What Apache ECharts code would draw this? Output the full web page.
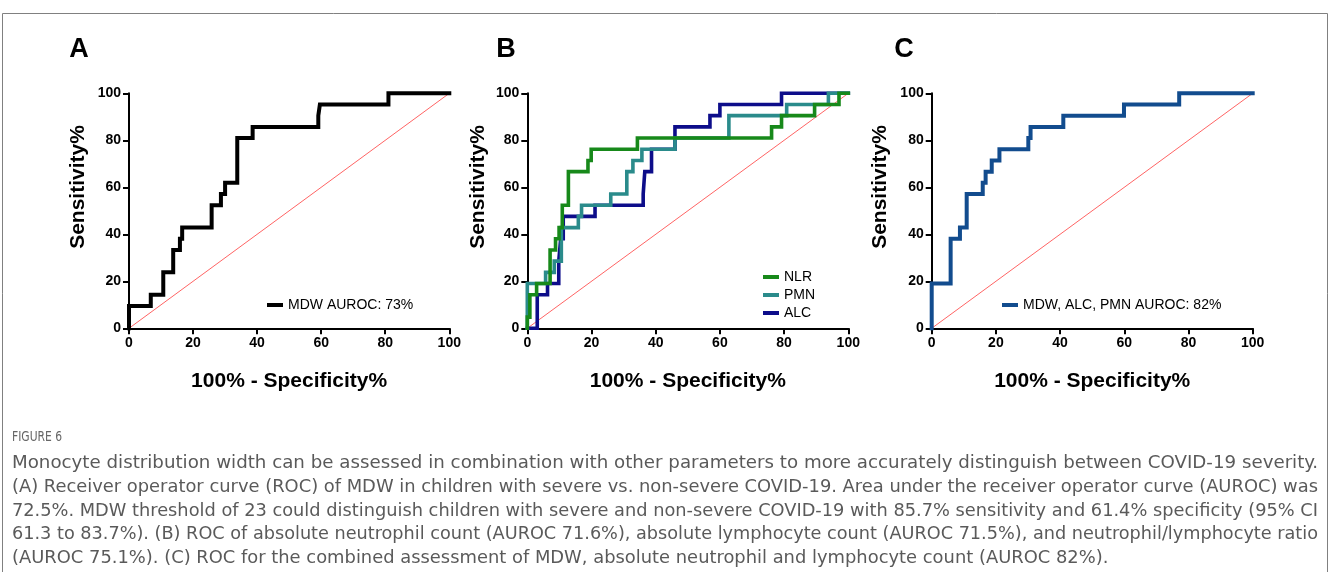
<!DOCTYPE html>
<html><head><meta charset="utf-8">
<script src="https://cdn.jsdelivr.net/npm/echarts@6/dist/echarts.min.js"></script>
<style>html,body{margin:0;padding:0;background:#fff}#c{width:1330px;height:572px}</style>
</head><body><div id="c"></div>
<script>
// ---------- data ----------
const xTicks = [0, 20, 40, 60, 80, 100];
const yTicks = [0, 20, 40, 60, 80, 100];
const refLine = [[0, 0], [100, 100]];
// ROC operating points [100% - specificity, sensitivity]
const mdwROC = [[0,0],[0,9.52],[6.8,14.29],[10.7,23.81],[13.8,33.33],[15.9,38.1],[16.6,42.86],[25.8,52.38],[28.7,57.14],[30.0,61.9],[33.8,80.95],[38.6,85.71],[59.1,90.48],[59.6,95.24],[81.0,100],[100,100]];
const nlrROC = [[0,0],[0,4.76],[0.8,14.29],[2.9,19.05],[7.1,33.33],[8.8,38.1],[9.9,42.86],[10.9,52.38],[12.8,66.67],[18.9,71.43],[19.9,76.19],[34.3,80.95],[76.1,85.71],[79.2,90.48],[89.5,95.24],[97.1,100],[100,100]];
const pmnROC = [[0,0],[0,19.05],[5.7,23.81],[8.4,28.57],[10.6,42.86],[15.9,47.62],[16.9,52.38],[26.0,57.14],[31.0,66.67],[32.9,71.43],[35.7,76.19],[46.0,80.95],[62.8,90.48],[80.8,95.24],[93.8,100],[100,100]];
const alcROC = [[0,0],[3.1,14.29],[6.3,19.05],[9.8,28.57],[10.4,38.1],[11.2,47.62],[21.1,52.38],[36.1,57.14],[36.6,66.67],[38.7,76.19],[46.0,85.71],[56.9,90.48],[60.0,95.24],[79.2,100],[100,100]];
const comboROC = [[0,0],[0,19.05],[5.9,38.1],[8.8,42.86],[10.9,57.14],[15.9,61.9],[16.8,66.67],[18.7,71.43],[21.1,76.19],[30.1,80.95],[30.8,85.71],[41.0,90.48],[59.9,95.24],[77.1,100],[100,100]];
const seriesNames = { A: 'MDW AUROC: 73%', NLR: 'NLR', PMN: 'PMN', ALC: 'ALC', C: 'MDW, ALC, PMN AUROC: 82%' };
const panelLetters = ['A', 'B', 'C'];
const xTitle = '100% - Specificity%';
const yTitle = 'Sensitivity%';
const captionHead = 'FIGURE 6';
const captionLines = [
  'Monocyte distribution width can be assessed in combination with other parameters to more accurately distinguish between COVID-19 severity.',
  '(A) Receiver operator curve (ROC) of MDW in children with severe vs. non-severe COVID-19. Area under the receiver operator curve (AUROC) was',
  '72.5%. MDW threshold of 23 could distinguish children with severe and non-severe COVID-19 with 85.7% sensitivity and 61.4% specificity (95% CI',
  '61.3 to 83.7%). (B) ROC of absolute neutrophil count (AUROC 71.6%), absolute lymphocyte count (AUROC 71.5%), and neutrophil/lymphocyte ratio',
  '(AUROC 75.1%). (C) ROC for the combined assessment of MDW, absolute neutrophil and lymphocyte count (AUROC 82%).'
];

// ---------- layout ----------
const FONT = 'Liberation Sans, Arial, Helvetica, sans-serif';
const grids = [
  { left: 129, top: 93.3, width: 320.3, height: 235 },
  { left: 527.3, top: 93.3, width: 321, height: 235 },
  { left: 931.7, top: 93.3, width: 321, height: 235 }
];
const letterPos = [[79, 50], [506, 50], [904, 50]];
const yTitlePos = [[78, 187], [478, 187], [880, 187]];

function axisCommon(isX) {
  return {
    type: 'value', min: 0, max: 100, interval: 20,
    axisLine: { show: true, onZero: false, lineStyle: { color: '#000', width: 2 } },
    axisTick: { show: true, length: 6, lineStyle: { color: '#000', width: 2 } },
    axisLabel: { color: '#000', fontWeight: 'bold', fontSize: 14, fontFamily: FONT, margin: 8,
      formatter: v => (isX ? xTicks : yTicks).includes(v) ? String(v) : '' },
    splitLine: { show: false }
  };
}
const xAxes = grids.map((g, i) => Object.assign(axisCommon(true), {
  gridIndex: i, name: xTitle, nameLocation: 'middle', nameGap: 42,
  nameTextStyle: { fontSize: 21, fontWeight: 'bold', color: '#000', fontFamily: FONT }
}));
const yAxes = grids.map((g, i) => Object.assign(axisCommon(false), { gridIndex: i }));

function lineSeries(name, data, idx, color, width, z) {
  return { type: 'line', name, data, xAxisIndex: idx, yAxisIndex: idx, step: 'end',
    symbol: 'none', clip: false, z: z || 3, silent: true,
    lineStyle: { color, width, cap: 'square', join: 'miter' }, itemStyle: { color } };
}
function refSeries(idx) {
  return { type: 'line', data: refLine, xAxisIndex: idx, yAxisIndex: idx, symbol: 'none',
    silent: true, z: 2, lineStyle: { color: '#ff6464', width: 1 } };
}
const series = [
  refSeries(0), lineSeries(seriesNames.A, mdwROC, 0, '#000000', 4),
  refSeries(1),
  lineSeries(seriesNames.ALC, alcROC, 1, '#0d0d8a', 3.6, 3),
  lineSeries(seriesNames.PMN, pmnROC, 1, '#2a8b8b', 3.6, 4),
  lineSeries(seriesNames.NLR, nlrROC, 1, '#17891a', 3.6, 5),
  refSeries(2), lineSeries(seriesNames.C, comboROC, 2, '#124c8e', 4)
];

const legendText = { fontSize: 14, color: '#000', fontFamily: FONT };
const legends = [
  { data: [seriesNames.A], left: 267, top: 298, padding: 0, icon: 'rect', itemWidth: 16, itemHeight: 4, itemGap: 5, selectedMode: false, textStyle: legendText },
  { data: [seriesNames.NLR, seriesNames.PMN, seriesNames.ALC], orient: 'vertical', left: 763, top: 270, padding: 0, icon: 'rect', itemWidth: 16, itemHeight: 4, itemGap: 4, selectedMode: false, textStyle: legendText },
  { data: [seriesNames.C], left: 1002, top: 298, padding: 0, icon: 'rect', itemWidth: 16, itemHeight: 4, itemGap: 5, selectedMode: false, textStyle: legendText }
];

// caption text fitting (justified lines)
const mctx = document.createElement('canvas').getContext('2d');
function textWidth(t, font) { mctx.font = font; return mctx.measureText(t).width; }
const capFont = '18px "Liberation Sans Narrow", "DejaVu Sans Condensed", "Roboto", sans-serif';
const capLeft = 12, capRight = 1318;
const capY = [463, 487, 511, 534, 558];
const scales = captionLines.map(t => (capRight - capLeft) / textWidth(t, capFont));
const avgScale = scales.slice(0, 4).reduce((a, b) => a + b, 0) / 4;
const graphics = [];
graphics.push({ type: 'rect', shape: { x: 2.5, y: 13.5, width: 1325, height: 700 }, style: { fill: 'none', stroke: '#808080', lineWidth: 1 }, silent: true });
panelLetters.forEach((L, i) => graphics.push({ type: 'text', x: letterPos[i][0], y: letterPos[i][1], silent: true,
  style: { text: L, font: 'bold 27px ' + FONT, fill: '#000', textAlign: 'center', textVerticalAlign: 'middle' } }));
yTitlePos.forEach(p => graphics.push({ type: 'text', x: p[0], y: p[1], rotation: Math.PI / 2, silent: true,
  style: { text: yTitle, font: 'bold 21px ' + FONT, fill: '#000', textAlign: 'center', textVerticalAlign: 'middle' } }));
const headFont = '14px "Liberation Sans Narrow", "DejaVu Sans Condensed", sans-serif';
graphics.push({ type: 'text', x: 12, y: 437, scaleX: 50 / textWidth(captionHead, headFont), silent: true,
  style: { text: captionHead, font: headFont, fill: '#666', textAlign: 'left', textVerticalAlign: 'middle' } });
captionLines.forEach((t, i) => graphics.push({ type: 'text', x: capLeft, y: capY[i], silent: true,
  scaleX: i < 4 ? scales[i] : avgScale,
  style: { text: t, font: capFont, fill: '#5a5a5a', textAlign: 'left', textVerticalAlign: 'middle' } }));

const chart = echarts.init(document.getElementById('c'), null, { renderer: 'canvas' });
chart.setOption({
  animation: false,
  backgroundColor: '#fff',
  grid: grids.map(g => Object.assign({ containLabel: false }, g)),
  xAxis: xAxes, yAxis: yAxes,
  legend: legends,
  series,
  graphic: graphics
});
</script></body></html>
